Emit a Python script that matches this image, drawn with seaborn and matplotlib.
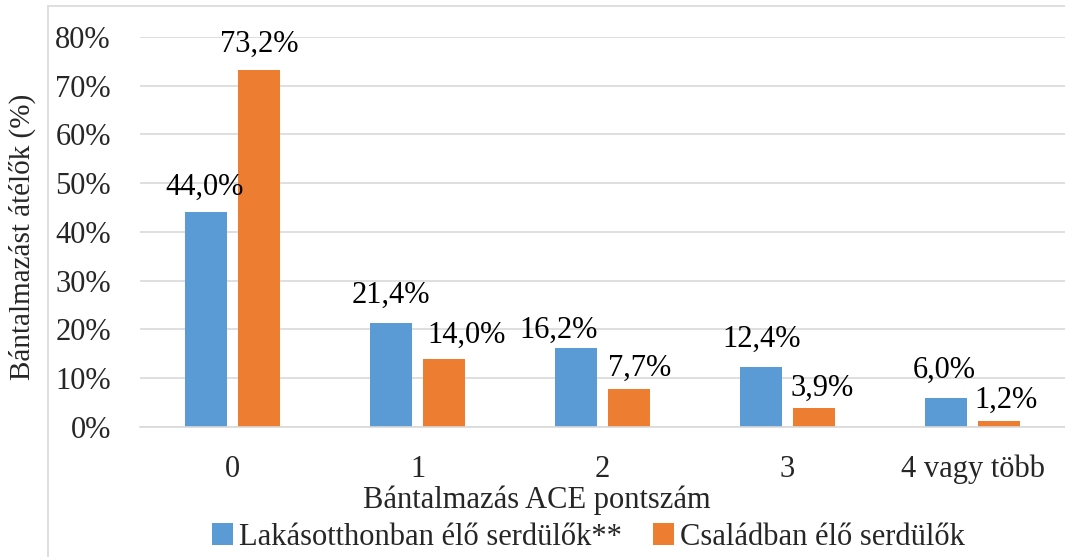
import pandas as pd
import matplotlib.pyplot as plt
import seaborn as sns
from matplotlib.lines import Line2D

# adatok a képről
kategoriak = ['0', '1', '2', '3', '4 vagy több']
lakasotthon = [44.0, 21.4, 16.2, 12.4, 6.0]
csalad = [73.2, 14.0, 7.7, 3.9, 1.2]
csoportok = ['Lakásotthonban élő serdülők**', 'Családban élő serdülők']
y_ticks = [0, 10, 20, 30, 40, 50, 60, 70, 80]

dados = pd.DataFrame({
    'ACE': kategoriak * 2,
    'Ertek': lakasotthon + csalad,
    'Csoport': [csoportok[0]] * 5 + [csoportok[1]] * 5,
})

# címkék eltolása (pont), ahogy az eredeti ábrán kézzel el lettek húzva
eltolas = [
    [(-1.5, 13), (0, 14), (-13, 7), (0, 14), (-1.5, 14)],
    [(0, 13), (16, 11.5), (7.5, 9.5), (6, 8.5), (5, 9.5)],
]

sns.set_style('white')
plt.rcParams['font.family'] = ['Liberation Serif', 'DejaVu Serif']

fs = 22

fig = plt.figure(figsize=(10.65, 5.57), dpi=100)
ax = fig.add_axes([0.1315, 0.2334, 0.8685, 0.7002])

sns.barplot(data=dados, x='ACE', y='Ertek', hue='Csoport', order=kategoriak,
            hue_order=csoportok, palette=['#5B9BD5', '#ED7D31'], saturation=1,
            width=0.57, gap=0.2, linewidth=0, ax=ax)

for cont, offs in zip(ax.containers, eltolas):
    for bar, v, (dx, dy) in zip(cont.patches, cont.datavalues, offs):
        ax.annotate(f'{v:.1f}%'.replace('.', ','),
                    xy=(bar.get_x() + bar.get_width() / 2, bar.get_height()),
                    xytext=(dx, dy), textcoords='offset points',
                    ha='center', va='baseline', fontsize=fs, color='#000000')

ax.set_ylim(0, 80)
ax.set_yticks(y_ticks)
ax.set_yticklabels([f'{t}%' for t in y_ticks], fontsize=fs)
ax.tick_params(axis='both', length=0, labelsize=fs)
ax.tick_params(axis='y', pad=21)
ax.tick_params(axis='x', pad=20)
ax.yaxis.grid(True, color='#D9D9D9', linewidth=1.2)
ax.set_axisbelow(True)
for s in ['left', 'right', 'top']:
    ax.spines[s].set_visible(False)
ax.spines['bottom'].set_color('#D9D9D9')
ax.spines['bottom'].set_linewidth(1.2)

ax.set_xlabel('Bántalmazás ACE pontszám', fontsize=fs)
ax.xaxis.set_label_coords(0.429, -0.15)
ax.set_ylabel('Bántalmazást átélők (%)', fontsize=21)
ax.yaxis.set_label_coords(-0.112, 0.487)

ax.legend(loc='center', bbox_to_anchor=(0.485, -0.283), ncol=2, frameon=False,
          fontsize=fs, handlelength=0.7, handleheight=0.7, handletextpad=0.2,
          columnspacing=1.0, borderaxespad=0)

# keret a bal és felső oldalon
fig.add_artist(Line2D([0.045, 0.045], [0, 0.99], color='#D9D9D9', linewidth=1.2))
fig.add_artist(Line2D([0.045, 1], [0.99, 0.99], color='#D9D9D9', linewidth=1.2))

fig.savefig('out.png', dpi=100)
